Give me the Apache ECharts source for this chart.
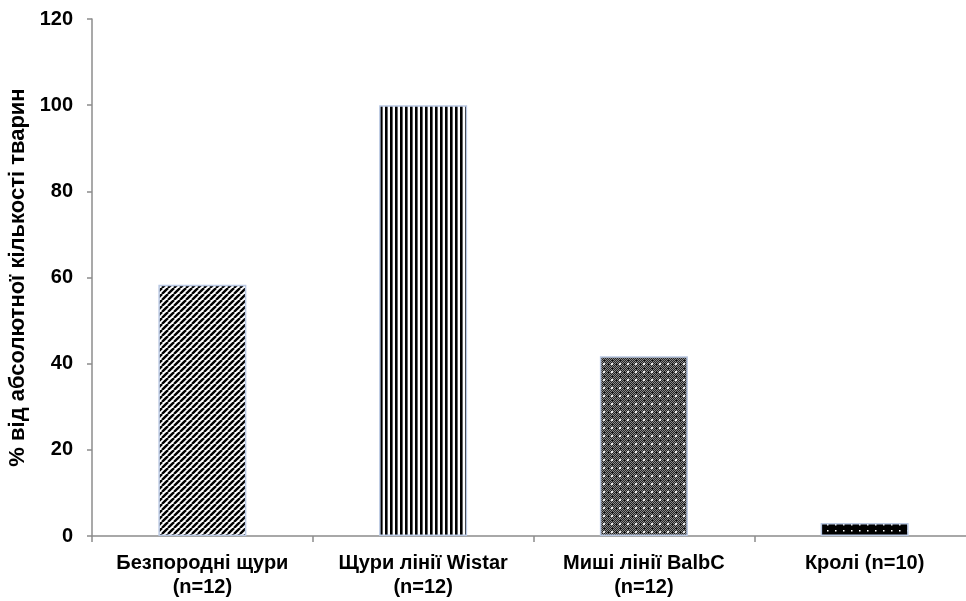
<!DOCTYPE html>
<html>
<head>
    <meta charset="UTF-8">
    <title>% від абсолютної кількості тварин</title>
    <script src="https://cdn.jsdelivr.net/npm/echarts@6/dist/echarts.min.js"></script>
    <style>
        html, body { margin: 0; padding: 0; background: #fff; }
        #chart { width: 966px; height: 601px; }
    </style>
</head>
<body>
    <div id="chart"></div>
    <script>
        // Data
        var categories = ['Безпородні щури\n(n=12)', 'Щури лінії Wistar\n(n=12)', 'Миші лінії BalbC\n(n=12)', 'Кролі (n=10)'];
        var values = [58.3, 100, 41.7, 3];
        var yTicks = [0, 20, 40, 60, 80, 100, 120];

        // Fill patterns, one per bar
        function makePattern(w, h, draw) {
            var c = document.createElement('canvas');
            c.width = w; c.height = h;
            draw(c.getContext('2d'), w, h);
            return { image: c, repeat: 'repeat' };
        }

        var diagonal = makePattern(6, 6, function (g, w, h) {
            g.fillStyle = '#fff'; g.fillRect(0, 0, w, h);
            g.strokeStyle = '#000'; g.lineWidth = 2.4;
            for (var k = -1; k <= 1; k++) {
                g.beginPath();
                g.moveTo(k * w, h);
                g.lineTo(k * w + w, 0);
                g.stroke();
            }
        });

        var vertical = makePattern(5, 4, function (g, w, h) {
            g.fillStyle = '#fff'; g.fillRect(0, 0, w, h);
            g.fillStyle = '#000'; g.fillRect(0, 0, 2.6, h);
        });

        var dotted = makePattern(8, 8, function (g, w, h) {
            for (var i = 0; i < w; i++) {
                for (var j = 0; j < h; j++) {
                    g.fillStyle = (i + j) % 2 ? '#222' : '#8a8a8a';
                    g.fillRect(i, j, 1, 1);
                }
            }
            g.fillStyle = '#e8e8e8';
            g.fillRect(3, 3, 2, 2);
            g.fillStyle = '#111';
            g.fillRect(0, 3, 1, 2);
            g.fillRect(3, 0, 2, 1);
        });

        var blackDots = makePattern(8, 6, function (g, w, h) {
            g.fillStyle = '#000'; g.fillRect(0, 0, w, h);
            g.fillStyle = '#fff'; g.fillRect(3, 2, 1.5, 1.5);
        });

        var fills = [diagonal, vertical, dotted, blackDots];

        var chart = echarts.init(document.getElementById('chart'));
        var font = 'Liberation Sans, Arial, sans-serif';

        chart.setOption({
            animation: false,
            backgroundColor: '#fff',
            grid: {
                left: 92, right: -9, top: 19, bottom: 65,
                containLabel: false, outerBoundsMode: 'none'
            },
            xAxis: {
                type: 'category',
                data: categories,
                axisLine: { lineStyle: { color: '#8c8c8c', width: 1.5 } },
                axisTick: { show: true, length: 6, lineStyle: { color: '#8c8c8c', width: 1.5 } },
                axisLabel: {
                    interval: 0,
                    hideOverlap: false,
                    color: '#000', fontFamily: font, fontWeight: 'bold', fontSize: 20,
                    lineHeight: 24, margin: 15
                }
            },
            yAxis: {
                type: 'value',
                min: yTicks[0],
                max: yTicks[yTicks.length - 1],
                interval: yTicks[1] - yTicks[0],
                name: '% від абсолютної кількості тварин',
                nameLocation: 'middle',
                nameGap: 61,
                nameRotate: 90,
                nameTextStyle: { color: '#000', fontFamily: font, fontWeight: 'bold', fontSize: 22 },
                axisLine: { show: true, lineStyle: { color: '#8c8c8c', width: 1.5 } },
                axisTick: { show: true, length: 5, lineStyle: { color: '#8c8c8c', width: 1.5 } },
                splitLine: { show: false },
                axisLabel: {
                    color: '#000', fontFamily: font, fontWeight: 'bold', fontSize: 20, margin: 19
                }
            },
            series: [{
                type: 'bar',
                barWidth: 88,
                data: values.map(function (v, i) {
                    return {
                        value: v,
                        itemStyle: {
                            color: fills[i],
                            borderColor: '#b9c8e2',
                            borderWidth: 1.5
                        }
                    };
                })
            }]
        });
    </script>
</body>
</html>
